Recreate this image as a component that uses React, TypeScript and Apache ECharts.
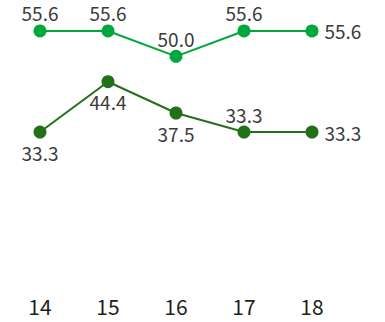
import React, { useEffect, useRef } from "react";
import * as echarts from "echarts";

const categories = ["14", "15", "16", "17", "18"];
const seriesA = [55.6, 55.6, 50.0, 55.6, 55.6];
const seriesB = [33.3, 44.4, 37.5, 33.3, 33.3];
const labelPosA = ["top", "top", "top", "top", "right"];
const labelPosB = ["bottom", "bottom", "bottom", "top", "right"];

const FONT = "'Noto Sans CJK JP', 'Noto Sans', sans-serif";
const DIST: Record<string, number> = { top: 3, bottom: 5, right: 6 };

export default function App() {
  const ref = useRef<HTMLDivElement>(null);
  useEffect(() => {
    if (!ref.current) return;
    const chart = echarts.init(ref.current, null, { renderer: "svg" });
    const mk = (vals: number[], pos: string[]) =>
      vals.map((v, i) => ({ value: v, label: { position: pos[i], distance: DIST[pos[i]] } }));
    const lbl = {
      show: true,
      formatter: (p: any) => Number(p.value).toFixed(1),
      color: "#3d3a3b",
      fontSize: 19,
      fontFamily: FONT,
      lineHeight: 17,
    };
    chart.setOption({
      animation: false,
      backgroundColor: "#ffffff",
      grid: { left: 6, right: 39, top: 11, bottom: 39 },
      xAxis: {
        type: "category",
        data: categories,
        boundaryGap: true,
        axisLine: { show: false },
        axisTick: { show: false },
        axisLabel: { color: "#231f20", fontSize: 21, fontFamily: FONT, margin: 12 },
      },
      yAxis: {
        type: "value",
        min: 0,
        max: 60,
        show: false,
        splitLine: { show: false },
      },
      series: [
        {
          type: "line",
          data: mk(seriesA, labelPosA),
          symbol: "circle",
          symbolSize: 13,
          color: "#00a73c",
          lineStyle: { width: 2, color: "#00a73c" },
          label: lbl,
        },
        {
          type: "line",
          data: mk(seriesB, labelPosB),
          symbol: "circle",
          symbolSize: 13,
          color: "#22701a",
          lineStyle: { width: 2, color: "#22701a" },
          label: lbl,
        },
      ],
    });
    return () => chart.dispose();
  }, []);
  return <div ref={ref} style={{ position: "fixed", left: 0, top: 0, width: 385, height: 322 }} />;
}
